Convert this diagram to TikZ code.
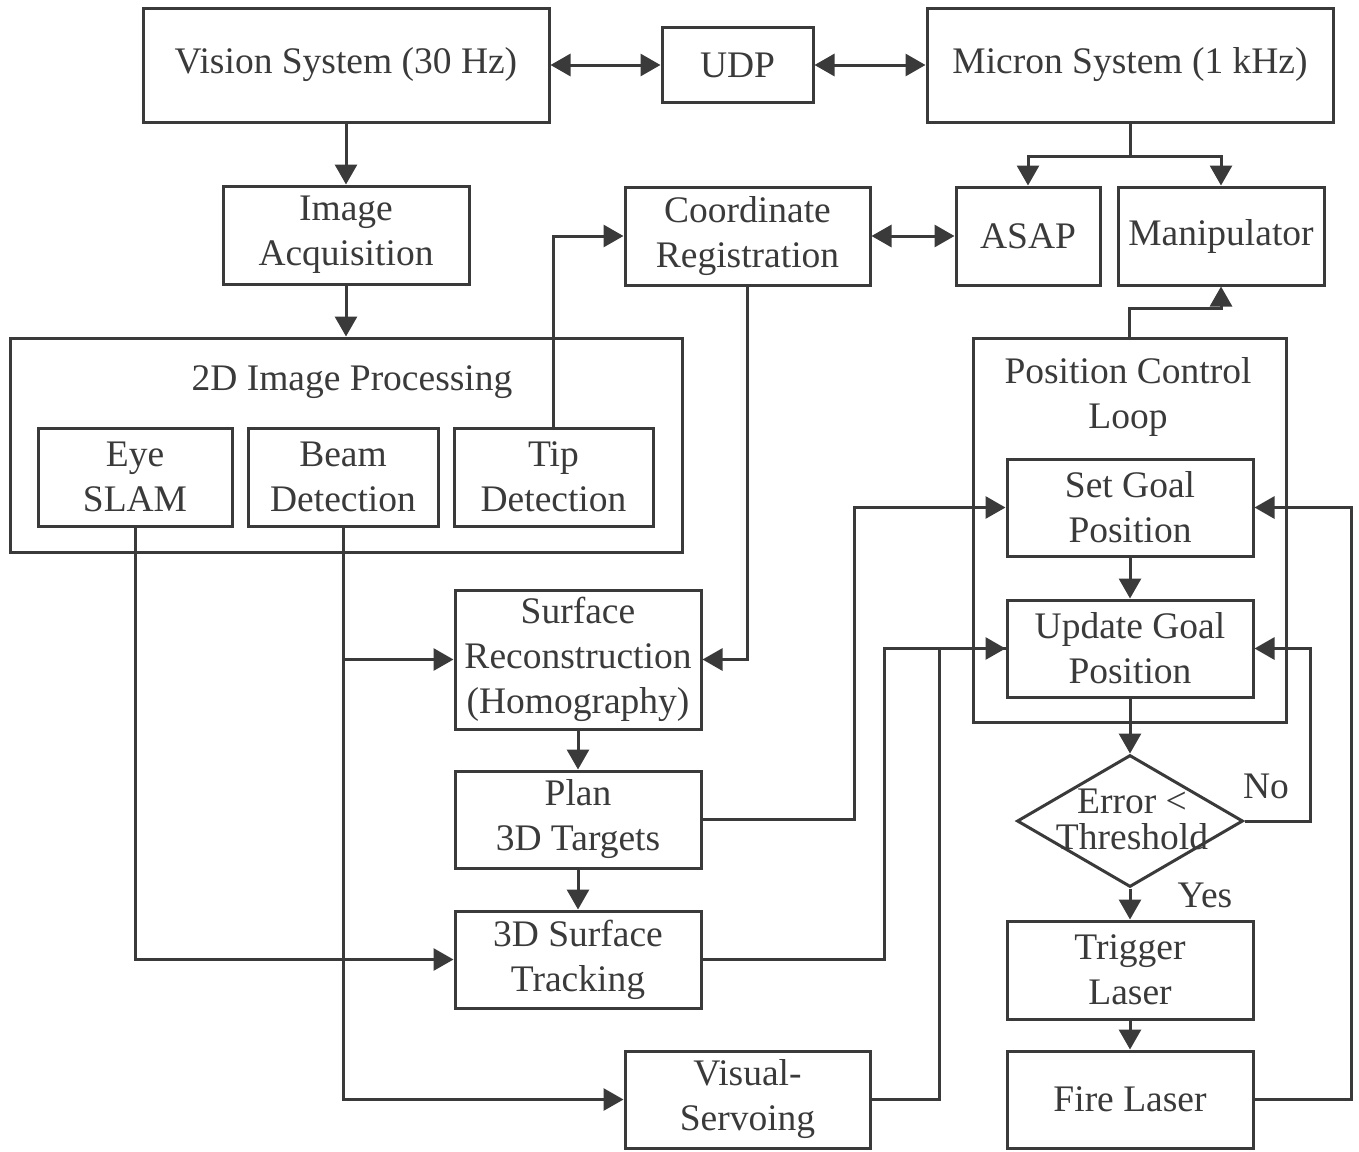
\documentclass[tikz,border=0pt]{standalone}
\usepackage{fontspec}
\setmainfont{Liberation Serif}
\usetikzlibrary{arrows.meta,shapes.geometric}
\definecolor{lineg}{RGB}{58,58,58}

\tikzset{
  blk/.style={draw=lineg, line width=1.5pt, rectangle, align=center, inner sep=0pt, text=lineg,
    font=\fontsize{18.75}{22.5}\selectfont, minimum width=123pt, minimum height=49pt},
  txt/.style={align=center, inner sep=0pt, text=lineg, font=\fontsize{18.75}{22.5}\selectfont},
  lin/.style={draw=lineg, line width=1.5pt},
  con/.style={lin, -{Triangle[length=10pt,width=11pt]}},
  dcon/.style={lin, {Triangle[length=10pt,width=11pt]}-{Triangle[length=10pt,width=11pt]}},
}

\begin{document}
\begin{tikzpicture}[x=0.5pt,y=0.5pt,yscale=-1]
\useasboundingbox (0,0) rectangle (1359,1151);

% Top row
\node[blk, minimum width=203pt, minimum height=57pt] (vision) at (346,65) {Vision System (30 Hz)};
\node[blk, minimum width=75.5pt, minimum height=37.5pt] (udp) at (737.5,65) {UDP};
\node[blk, minimum width=203pt, minimum height=57pt] (micron) at (1130,65) {Micron System (1 kHz)};

% Second row
\node[blk] (imgacq) at (346,235) {Image\\Acquisition};
\node[blk, minimum width=122.5pt] (coordreg) at (747.5,236) {Coordinate\\Registration};
\node[blk, minimum width=72pt] (asap) at (1028,236) {ASAP};
\node[blk, minimum width=103pt] (manip) at (1221,236) {Manipulator};

% 2D Image Processing group
\node[blk, minimum width=336pt, minimum height=107pt] (proc2d) at (346,445) {};
\node[txt] (proc2dlbl) at (352,382) {2D Image Processing};
\node[blk, minimum width=97pt] (eyeslam) at (135,477) {Eye\\SLAM};
\node[blk, minimum width=95pt] (beamdet) at (343,477) {Beam\\Detection};
\node[blk, minimum width=99.5pt] (tipdet) at (553.5,477) {Tip\\Detection};

% Position Control Loop group
\node[blk, minimum width=156.5pt, minimum height=192pt] (pcl) at (1129.5,530) {};
\node[txt] (pcllbl) at (1128,397) {Position Control\\Loop};
\node[blk, minimum height=48.5pt] (setgoal) at (1130,507.5) {Set Goal\\Position};
\node[blk, minimum height=48.5pt] (updgoal) at (1130,648.5) {Update Goal\\Position};

% Decision and laser
\node[diamond, draw=lineg, line width=1.5pt, inner sep=0pt, minimum width=113pt, minimum height=66pt] (dec) at (1130,821) {};
\node[txt, font=\fontsize{18.75}{18}\selectfont] (dectxt) at (1132,819) {Error <\\Threshold};
\node[txt] (nolbl) at (1266,786) {No};
\node[txt] (yeslbl) at (1205,895) {Yes};
\node[blk] (trigger) at (1130,970) {Trigger\\Laser};
\node[blk, minimum height=48.5pt] (fire) at (1130,1099.5) {Fire Laser};

% Middle column
\node[blk, minimum height=69.5pt] (surfrec) at (578,659.5) {Surface\\Reconstruction\\(Homography)};
\node[blk, minimum height=48.5pt] (plan) at (578,819.5) {Plan\\3D Targets};
\node[blk, minimum height=48.5pt] (tracking) at (578,959.5) {3D Surface\\Tracking};
\node[blk, minimum width=122.5pt, minimum height=48.5pt] (visserv) at (747.5,1099.5) {Visual-\\Servoing};

% Connectors
\draw[dcon] (vision) -- (udp);
\draw[dcon] (udp) -- (micron);
\draw[con] (vision) -- (imgacq);
\draw[con] (imgacq) -- (proc2d.north);
\draw[lin] (micron.south) -- ++(0,33) coordinate (split);
\draw[con] (split) -| (asap.north);
\draw[con] (split) -| (manip.north);
\draw[dcon] (coordreg) -- (asap);
\draw[con] (tipdet.north) |- (coordreg.west);
\draw[con] (coordreg.south) |- (surfrec.east);
\draw[con] (beamdet.south) |- (visserv.west);
\draw[con] (beamdet.south |- surfrec.west) -- (surfrec.west);
\draw[con] (eyeslam.south) |- (tracking.west);
\draw[con] (surfrec) -- (plan);
\draw[con] (plan) -- (tracking);
\draw[con] (plan.east) -- ++(152,0) |- (setgoal.west);
\draw[con] (tracking.east) -- ++(182,0) |- (updgoal.west);
\draw[lin] (visserv.east) -- ++(68,0) |- (updgoal.west);
\draw[con] (setgoal) -- (updgoal);
\draw[con] (updgoal.south) -- (dec.north);
\draw[con] (dec.east) -- ++(66,0) |- (updgoal.east);
\draw[con] (dec.south) -- (trigger.north);
\draw[con] (trigger) -- (fire);
\draw[con] (fire.east) -- ++(97,0) |- (setgoal.east);
\draw[con] (pcl.north) -- ++(0,-28) -| (manip.south);

\end{tikzpicture}
\end{document}
